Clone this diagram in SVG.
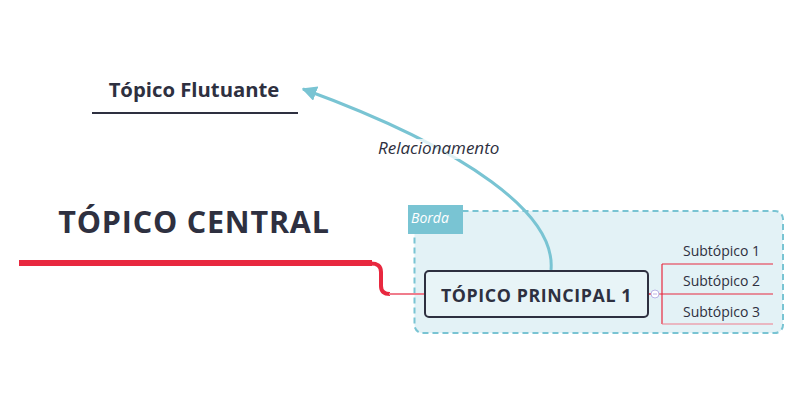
<svg xmlns="http://www.w3.org/2000/svg" width="800" height="400" viewBox="0 0 800 400">
<style>
.t{font-family:"Open Sans","Noto Sans","Liberation Sans",sans-serif;fill:#2E3040}
.b{font-weight:bold}
.sub{font-size:14px}
.red{stroke:#E8283F;fill:none}
</style>
<defs>
<marker id="arr" viewBox="0 0 10 10" refX="9" refY="5" markerWidth="5" markerHeight="5" orient="auto" markerUnits="strokeWidth">
<path d="M0,0 L10,5 L0,10 z" fill="#79C4D3"/>
</marker>
</defs>
<rect width="800" height="400" fill="#fff"/>
<g id="boundary">
<rect x="414.5" y="211" width="368.5" height="122" rx="8" fill="#E3F2F6" stroke="#79C4D3" stroke-width="2" stroke-dasharray="6,4"/>
<rect x="408" y="205" width="55" height="29" fill="#79C4D3"/>
<text x="411" y="223" class="t" font-size="14" font-style="italic" style="fill:#fff">Borda</text>
</g>
<g id="connectors">
<line x1="19" y1="263" x2="372" y2="263" stroke="#E8283F" stroke-width="6"/>
<path d="M370,263.5 Q381,263 381,272 L381,286 Q381,294 390,294" class="red" stroke-width="4"/>
<line x1="389" y1="294" x2="426" y2="294" stroke="#F07C8C" stroke-width="2"/>
<line x1="648" y1="294" x2="651" y2="294" stroke="#E8283F" stroke-width="1.5"/>
<line x1="659" y1="294" x2="773" y2="294" stroke="#E8283F" stroke-width="1.2"/>
<line x1="662" y1="264" x2="662" y2="324" stroke="#E8283F" stroke-width="1.2"/>
<line x1="662" y1="264" x2="773" y2="264" stroke="#E8283F" stroke-width="1.2"/>
<line x1="662" y1="324" x2="773" y2="324" stroke="#F07C8C" stroke-width="1.2"/>
<circle cx="655" cy="294" r="4" fill="#fff" stroke="#B9B4E6" stroke-width="1"/>
<line x1="653" y1="294" x2="657" y2="294" stroke="#B9B4E6" stroke-width="1"/>
<path d="M551,270 C556,215 470,150 303,89" fill="none" stroke="#79C4D3" stroke-width="3" marker-end="url(#arr)"/>
<rect x="376" y="139" width="126" height="20" fill="#fff" opacity="0.75"/>
<text x="378" y="154" class="t" font-size="17" font-style="italic">Relacionamento</text>
</g>
<g id="central">
<text x="194" y="233" class="t b" font-size="30.5" text-anchor="middle" letter-spacing="0.8">TÓPICO CENTRAL</text>
</g>
<g id="floating">
<text x="194" y="97" class="t b" font-size="20.3" text-anchor="middle">Tópico Flutuante</text>
<line x1="92" y1="113" x2="298" y2="113" stroke="#2E3040" stroke-width="2"/>
</g>
<g id="main1">
<rect x="425" y="271" width="223" height="46" rx="4" fill="#E8F4F7" stroke="#2E3040" stroke-width="2"/>
<text x="536.5" y="302" class="t b" font-size="17.8" text-anchor="middle" letter-spacing="0.6">TÓPICO PRINCIPAL 1</text>
</g>
<g id="sub1"><text x="683" y="256" class="t sub">Subtópico 1</text></g>
<g id="sub2"><text x="683" y="286" class="t sub">Subtópico 2</text></g>
<g id="sub3"><text x="683" y="317" class="t sub">Subtópico 3</text></g>
</svg>
